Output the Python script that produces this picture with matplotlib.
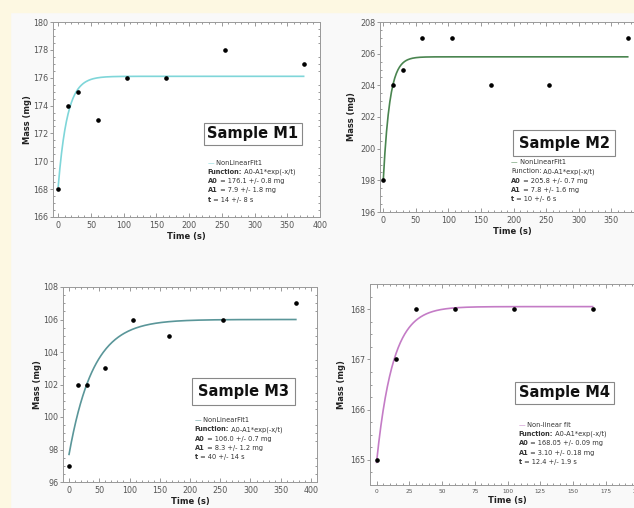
import numpy as np
import matplotlib.pyplot as plt
from matplotlib.ticker import MultipleLocator, AutoMinorLocator
from matplotlib.patches import Rectangle

# measured data (time in s, mass in mg)
time_s = [0, 15, 30, 60, 105, 165, 255, 375]
mass_m1 = [168, 174, 175, 173, 176, 176, 178, 177]
mass_m2 = [198, 204, 205, 207, 207, 204, 204, 207]
mass_m3 = [97, 102, 102, 103, 106, 105, 106, 107]
time_m4 = [0, 15, 30, 60, 105, 165]
mass_m4 = [165, 167, 168, 168, 168, 168]

# fit results A0, A1, t printed in each panel
fit_m1 = [176.1, 7.9, 14]
fit_m2 = [205.8, 7.8, 10]
fit_m3 = [106.0, 8.3, 40]
fit_m4 = [168.05, 3.10, 12.4]

fit_labels = ['NonLinearFit1', 'NonLinearFit1', 'NonLinearFit1', 'Non-linear fit']
param_texts = [
    ['176.1 +/- 0.8 mg', '7.9 +/- 1.8 mg', '14 +/- 8 s'],
    ['205.8 +/- 0.7 mg', '7.8 +/- 1.6 mg', '10 +/- 6 s'],
    ['106.0 +/- 0.7 mg', '8.3 +/- 1.2 mg', '40 +/- 14 s'],
    ['168.05 +/- 0.09 mg', '3.10 +/- 0.18 mg', '12.4 +/- 1.9 s'],
]
samples = ['Sample M1', 'Sample M2', 'Sample M3', 'Sample M4']

W, H = 634, 508
fig = plt.figure(figsize=(W / 100, H / 100), dpi=100, facecolor='#f9f9f9')
# yellow page edge on the left and top
fig.patches.append(Rectangle((0, 0), 10 / W, 1, transform=fig.transFigure, color='#fdf8e2', zorder=-1))
fig.patches.append(Rectangle((0, 1 - 12 / H), 1, 12 / H, transform=fig.transFigure, color='#fdf8e2', zorder=-1))


def box(l, r, t, b):
    return [l / W, 1 - b / H, (r - l) / W, (b - t) / H]


panels = [
    dict(pos=box(53, 320, 22, 217), x=time_s, y=mass_m1, fit=fit_m1, color='#7fd6d9',
         xlim=(-8, 400), ylim=(166, 180), xstep=50, ystep=2, xfs=5.8, ylpad=0.5,
         sample_xy=(0.749, 0.426), pad=0.25, info_xy=(0.58, 0.277), dy=0.047, bold_func=True),
    dict(pos=box(380, 644, 22, 212), x=time_s, y=mass_m2, fit=fit_m2, color='#4a8550',
         xlim=(-5, 400), ylim=(196, 208), xstep=50, ystep=2, xfs=5.8, ylpad=3,
         sample_xy=(0.697, 0.363), pad=0.4, info_xy=(0.496, 0.263), dy=0.0487, bold_func=False),
    dict(pos=box(63, 317, 287, 482), x=time_s, y=mass_m3, fit=fit_m3, color='#5a9699',
         xlim=(-10, 410), ylim=(96, 108), xstep=50, ystep=2, xfs=5.8, ylpad=0.5,
         sample_xy=(0.71, 0.464), pad=0.4, info_xy=(0.519, 0.318), dy=0.0477, bold_func=True),
    dict(pos=box(370, 645, 284, 485), x=time_m4, y=mass_m4, fit=fit_m4, color='#c47cc6',
         xlim=(-5, 205), ylim=(164.5, 168.5), xstep=25, ystep=1, xfs=4.2, ylpad=3,
         sample_xy=(0.707, 0.458), pad=0.25, info_xy=(0.54, 0.2985), dy=0.046, bold_func=True),
]

txt_col = '#333333'
fs_info = 4.8

for i, p in enumerate(panels):
    ax = fig.add_axes(p['pos'])
    ax.set_facecolor('white')
    A0, A1, tau = p['fit']
    xs = np.linspace(0, p['x'][-1], 300)
    ax.plot(xs, A0 - A1 * np.exp(-xs / tau), color=p['color'], lw=1.2, zorder=2)
    ax.plot(p['x'], p['y'], 'o', color='black', ms=2.3, zorder=3)

    ax.set_xlim(p['xlim'])
    ax.set_ylim(p['ylim'])
    ax.xaxis.set_major_locator(MultipleLocator(p['xstep']))
    ax.yaxis.set_major_locator(MultipleLocator(p['ystep']))
    ax.xaxis.set_minor_locator(AutoMinorLocator(5))
    ax.yaxis.set_minor_locator(AutoMinorLocator(4))
    ax.tick_params(which='both', direction='in', top=True, right=True, color='#888888', width=0.6)
    ax.tick_params(which='major', length=3)
    ax.tick_params(which='minor', length=1.5)
    ax.tick_params(axis='y', which='major', direction='out', left=True, right=False, length=2.5)
    ax.tick_params(axis='y', labelsize=5.8, labelcolor='#555555', pad=1)
    ax.tick_params(axis='x', labelsize=p['xfs'], labelcolor='#555555', pad=3)
    for s in ax.spines.values():
        s.set_color('#999999')
        s.set_linewidth(0.7)

    ax.set_xlabel('Time (s)', fontsize=6, fontweight='bold', color='#222222', labelpad=1)
    ax.set_ylabel('Mass (mg)', fontsize=6, fontweight='bold', color='#222222', labelpad=p['ylpad'])

    ax.text(p['sample_xy'][0], p['sample_xy'][1], samples[i], transform=ax.transAxes,
            ha='center', va='center', fontsize=10.5, fontweight='bold', color='#111111',
            bbox=dict(boxstyle='square,pad=%s' % p['pad'], fc='white', ec='#888888', lw=0.8))

    x0, y0 = p['info_xy']
    dash = ax.text(x0, y0, '\u2014', transform=ax.transAxes, color=p['color'],
                   fontsize=fs_info, va='center', ha='left')
    ax.annotate(' ' + fit_labels[i], xy=(1, 0.5), xycoords=dash, va='center', ha='left',
                fontsize=fs_info, color=txt_col)

    rows = [('Function:', ' A0-A1*exp(-x/t)'),
            ('A0', ' = ' + param_texts[i][0]),
            ('A1', ' = ' + param_texts[i][1]),
            ('t', ' = ' + param_texts[i][2])]
    for k, (key, rest) in enumerate(rows):
        yy = y0 - p['dy'] * (k + 1)
        w = 'bold' if (k > 0 or p['bold_func']) else 'normal'
        kt = ax.text(x0, yy, key, transform=ax.transAxes, fontsize=fs_info, fontweight=w,
                     color=txt_col, va='center', ha='left')
        ax.annotate(rest, xy=(1, 0.5), xycoords=kt, va='center', ha='left',
                    fontsize=fs_info, color=txt_col)

plt.savefig('out.png', dpi=100, facecolor=fig.get_facecolor())
